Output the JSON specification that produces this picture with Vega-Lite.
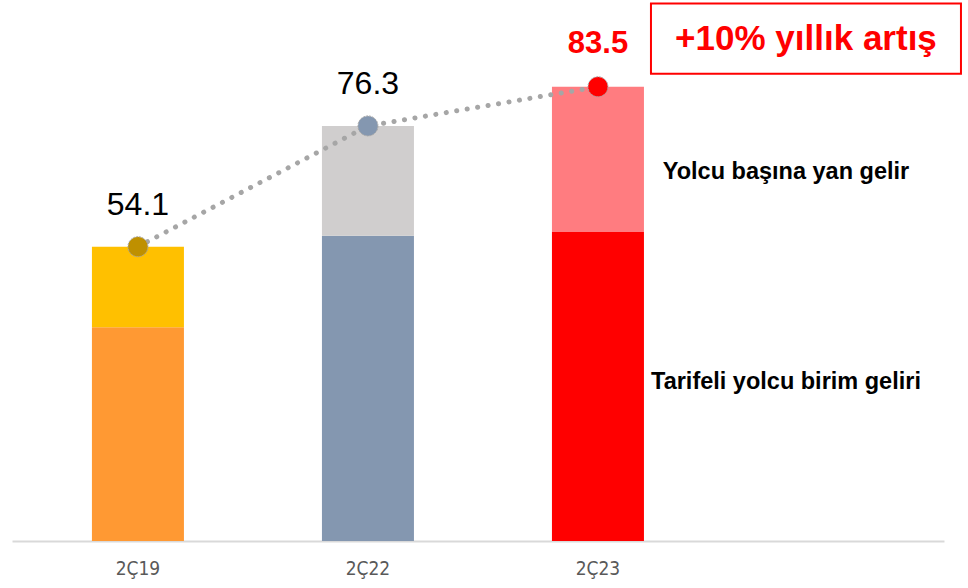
{
  "$schema": "https://vega.github.io/schema/vega-lite/v6.json",
  "width": 932,
  "height": 541,
  "autosize": "none",
  "padding": {"left": 12, "top": 0, "right": 24, "bottom": 47},
  "background": "white",
  "config": {"view": {"stroke": null}},
  "datasets": {
    "segments": [
      {"quarter": "2Ç19", "segment": "Tarifeli yolcu birim geliri", "key": "2Ç19 alt", "value": 39.3},
      {"quarter": "2Ç19", "segment": "Yolcu başına yan gelir", "key": "2Ç19 üst", "value": 14.8},
      {"quarter": "2Ç22", "segment": "Tarifeli yolcu birim geliri", "key": "2Ç22 alt", "value": 56.1},
      {"quarter": "2Ç22", "segment": "Yolcu başına yan gelir", "key": "2Ç22 üst", "value": 20.2},
      {"quarter": "2Ç23", "segment": "Tarifeli yolcu birim geliri", "key": "2Ç23 alt", "value": 56.8},
      {"quarter": "2Ç23", "segment": "Yolcu başına yan gelir", "key": "2Ç23 üst", "value": 26.7}
    ],
    "totals": [
      {"quarter": "2Ç19", "total": 54.1},
      {"quarter": "2Ç22", "total": 76.3},
      {"quarter": "2Ç23", "total": 83.5}
    ]
  },
  "encoding": {
    "x": {
      "field": "quarter",
      "type": "nominal",
      "scale": {"domain": ["2Ç19", "2Ç22", "2Ç23", "pad"], "paddingInner": 0.6, "paddingOuter": 0.326, "align": 0.533},
      "axis": {
        "title": null,
        "labelAngle": 0,
        "ticks": false,
        "domainColor": "#d9d9d9",
        "domainWidth": 2,
        "labelColor": "#595959",
        "labelFont": "Liberation Sans Narrow, DejaVu Sans Condensed, Liberation Sans",
        "labelFontSize": 19,
        "labelPadding": 18,
        "labelExpr": "datum.value == 'pad' ? '' : datum.value"
      }
    }
  },
  "layer": [
    {
      "data": {"name": "segments"},
      "mark": {"type": "bar"},
      "encoding": {
        "y": {"field": "value", "type": "quantitative", "stack": "zero", "scale": {"domain": [0, 99.45], "nice": false}, "axis": null},
        "order": {"field": "segment", "sort": "ascending"},
        "color": {
          "field": "key",
          "type": "nominal",
          "legend": null,
          "scale": {
            "domain": ["2Ç19 alt", "2Ç19 üst", "2Ç22 alt", "2Ç22 üst", "2Ç23 alt", "2Ç23 üst"],
            "range": ["#ff9933", "#ffc000", "#8497b0", "#d0cece", "#ff0000", "#ff7c80"]
          }
        }
      }
    },
    {
      "data": {"name": "totals"},
      "mark": {"type": "line", "color": "#a6a6a6", "strokeWidth": 5, "strokeCap": "round", "strokeDash": [0.1, 10.5]},
      "encoding": {
        "y": {"field": "total", "type": "quantitative"}
      }
    },
    {
      "data": {"name": "totals"},
      "mark": {"type": "point", "filled": true, "opacity": 1, "size": 400, "stroke": "#a6a6a6", "strokeWidth": 1, "strokeDash": [2, 1]},
      "encoding": {
        "y": {"field": "total", "type": "quantitative"},
        "fill": {
          "field": "quarter",
          "type": "nominal",
          "legend": null,
          "scale": {"domain": ["2Ç19", "2Ç22", "2Ç23"], "range": ["#bf9000", "#8497b0", "#ff0000"]}
        }
      }
    },
    {
      "data": {"name": "totals"},
      "transform": [{"filter": "datum.quarter != '2Ç23'"}],
      "mark": {"type": "text", "font": "Liberation Sans", "fontSize": 32, "dy": -42, "baseline": "middle", "color": "#000000"},
      "encoding": {
        "y": {"field": "total", "type": "quantitative"},
        "text": {"field": "total", "type": "quantitative", "format": ".1f"}
      }
    },
    {
      "data": {"name": "totals"},
      "transform": [{"filter": "datum.quarter == '2Ç23'"}],
      "mark": {"type": "text", "font": "Liberation Sans", "fontSize": 31, "fontWeight": "bold", "dy": -43, "baseline": "middle", "color": "#ff0000"},
      "encoding": {
        "y": {"field": "total", "type": "quantitative"},
        "text": {"field": "total", "type": "quantitative", "format": ".1f"}
      }
    },
    {
      "data": {"values": [{"label": "+10% yıllık artış"}]},
      "mark": {"type": "bar", "width": 310, "xOffset": -22, "fill": "white", "stroke": "#ff0000", "strokeWidth": 2},
      "encoding": {
        "x": {"datum": "pad", "type": "nominal"},
        "y": {"datum": 85.9, "type": "quantitative"},
        "y2": {"datum": 98.8}
      }
    },
    {
      "data": {"values": [{"label": "+10% yıllık artış"}]},
      "mark": {"type": "text", "font": "Liberation Sans", "fontWeight": "bold", "fontSize": 35, "color": "#ff0000", "xOffset": -22, "baseline": "middle"},
      "encoding": {
        "x": {"datum": "pad", "type": "nominal"},
        "y": {"datum": 92.3, "type": "quantitative"},
        "text": {"field": "label"}
      }
    },
    {
      "data": {"values": [
        {"label": "Yolcu başına yan gelir", "level": 67.8},
        {"label": "Tarifeli yolcu birim geliri", "level": 29.2}
      ]},
      "mark": {"type": "text", "font": "Liberation Sans", "fontWeight": "bold", "fontSize": 23.5, "color": "#000000", "xOffset": -42, "baseline": "middle"},
      "encoding": {
        "x": {"datum": "pad", "type": "nominal"},
        "y": {"field": "level", "type": "quantitative"},
        "text": {"field": "label"}
      }
    }
  ]
}
